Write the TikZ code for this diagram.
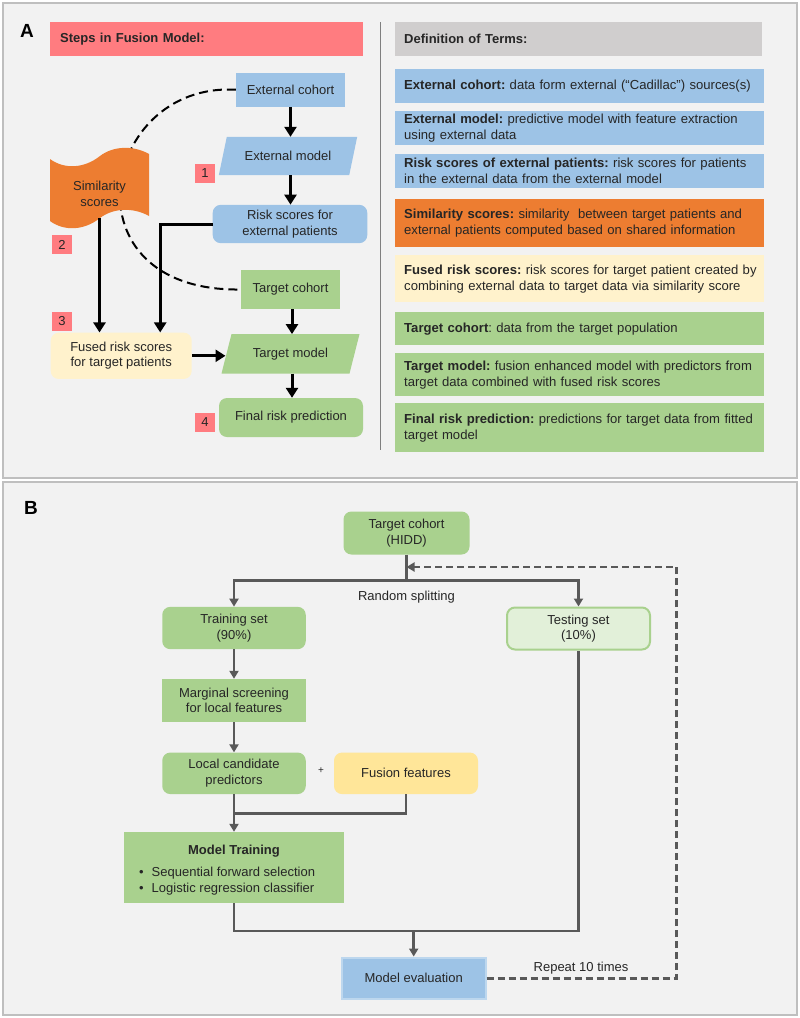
\documentclass[tikz,border=0pt]{standalone}
\usepackage{fontspec}
\setmainfont{Liberation Sans}
\usetikzlibrary{arrows.meta,calc,backgrounds}
\definecolor{panelbg}{HTML}{F2F2F2}
\definecolor{panelline}{HTML}{BFBFBF}
\definecolor{redhdr}{HTML}{FF7C80}
\definecolor{greyhdr}{HTML}{D0CECE}
\definecolor{blu}{HTML}{9DC3E6}
\definecolor{org}{HTML}{ED7D31}
\definecolor{lyel}{HTML}{FFF2CC}
\definecolor{grn}{HTML}{A9D18E}
\definecolor{fyel}{HTML}{FFE699}
\definecolor{lgrn}{HTML}{E2F0D9}
\definecolor{lblu}{HTML}{BDD7EE}
\definecolor{gline}{HTML}{595959}
\definecolor{txt}{HTML}{262626}
\definecolor{divline}{HTML}{7F7F7F}
\begin{document}
\frenchspacing
\begin{tikzpicture}[x=1pt,y=-1pt,
  every node/.style={inner sep=0pt, text=txt, font=\fontsize{13}{15.5}\selectfont},
  flow/.style={rectangle, align=center},
  rnd/.style={rounded corners=8pt},
  defbox/.style={rectangle, anchor=north west, text width=351, inner xsep=9, align=left, font=\fontsize{13.1}{16}\selectfont},
  hdr/.style={rectangle, anchor=north west, minimum height=34, inner xsep=10, align=left, font=\bfseries\fontsize{13}{15}\selectfont},
  badge/.style={rectangle, fill=redhdr, minimum width=20, minimum height=19},
  bigarr/.style={line width=3pt, -{Triangle[width=12pt,length=10pt]}},
  simline/.style={line width=2pt, dash pattern=on 9pt off 5pt},
  gl/.style={line width=2.5pt, draw=gline},
  garr/.style={line width=2.5pt, draw=gline, -{Triangle[width=9pt,length=8pt]}, gline},
  gdash/.style={line width=2.5pt, draw=gline, dash pattern=on 7pt off 4pt, -{Triangle[width=9pt,length=8pt]}, gline},
  panel/.style={fill=panelbg, draw=panelline, line width=1.5pt}
]
\useasboundingbox (0,0) rectangle (800,1018);
\begin{pgfonlayer}{background}
\draw[panel] (3,3) rectangle (797,478);
\draw[panel] (3,482) rectangle (797,1015);
\end{pgfonlayer}

% ---------------- Panel A ----------------
\node[font=\bfseries\fontsize{19}{19}\selectfont, text=black] (labA) at (27,31) {A};
\node[hdr, fill=redhdr, text width=293] (hdrA) at (50,22) {Steps in Fusion Model:};
\node[hdr, fill=greyhdr, text width=349, inner xsep=9] (hdrB) at (395,22) {Definition of Terms:};
\draw[line width=1pt, divline] (380,22) -- (380,450);

% definitions
\node[defbox, fill=blu, minimum height=34] (d1) at (395,69) {\mbox{\textbf{External cohort:} data form external (“Cadillac”) sources(s)}};
\node[defbox, fill=blu, minimum height=34] (d2) at (395,111) {\mbox{\textbf{External model:} predictive model with feature extraction}\\using external data};
\node[defbox, fill=blu, minimum height=34] (d3) at (395,154) {\mbox{\textbf{Risk scores of external patients:} risk scores for patients}\\\mbox{in the external data from the external model}};
\node[defbox, fill=org, minimum height=48] (d4) at (395,199) {\mbox{\textbf{Similarity scores:} similarity\ \ between target patients and}\\\mbox{external patients computed based on shared information}};
\node[defbox, fill=lyel, minimum height=47] (d5) at (395,255) {\mbox{\textbf{Fused risk scores:} risk scores for target patient created by}\\\mbox{combining external data to target data via similarity score}};
\node[defbox, fill=grn, minimum height=33] (d6) at (395,312) {\mbox{\textbf{Target cohort}: data from the target population}};
\node[defbox, fill=grn, minimum height=43] (d7) at (395,353) {\mbox{\textbf{Target model:} fusion enhanced model with predictors from}\\\mbox{target data combined with fused risk scores}};
\node[defbox, fill=grn, minimum height=49] (d8) at (395,403) {\mbox{\textbf{Final risk prediction:} predictions for target data from fitted}\\target model};

% flow nodes
\node[flow, fill=blu, minimum width=109, minimum height=34] (ec) at (290.5,89.7) {External cohort};
\node[flow, minimum width=138, minimum height=38] (em) at (288,156) {External model};
\begin{pgfonlayer}{background}
\fill[blu] ([xshift=8]em.north west) -- (em.north east) -- ([xshift=-8]em.south east) -- (em.south west) -- cycle;
\end{pgfonlayer}
\node[flow, rnd, fill=blu, minimum width=154.6, minimum height=38.3] (rs) at (290,224) {Risk scores for\\external patients};
\node[flow, fill=grn, minimum width=99.3, minimum height=38.7] (tc) at (290.5,289.5) {Target cohort};
\node[flow, minimum width=137.6, minimum height=39] (tm) at (290.5,353.8) {Target model};
\begin{pgfonlayer}{background}
\fill[grn] ([xshift=10]tm.north west) -- (tm.north east) -- ([xshift=-10]tm.south east) -- (tm.south west) -- cycle;
\end{pgfonlayer}
\node[flow, rnd, fill=lyel, minimum width=141, minimum height=46.3] (fr) at (121.2,355.8) {Fused risk scores\\for target patients};
\node[flow, rnd, fill=grn, minimum width=144, minimum height=39] (fp) at (291,417.5) {Final risk prediction};

% dashed similarity curve (behind the tape shape)
\draw[simline] (ec.west) .. controls (100,82) and (62,292) .. (tc.west);
\fill[org] (50,159) .. controls (65,170) and (85,168) .. (100,156) .. controls (113,146) and (133,145) .. (149,154)
  -- (149,216) .. controls (133,207) and (113,208) .. (100,218) .. controls (85,230) and (65,232) .. (50,221) -- cycle;
\node[flow, minimum width=99, minimum height=48] (ss) at (99.5,194) {Similarity\\scores};

% badges
\node[badge] (n1) at (205,173.5) {1};
\node[badge] (n2) at (62,244.5) {2};
\node[badge] (n3) at (62,321) {3};
\node[badge] (n4) at (205,422.5) {4};

% arrows panel A
\draw[bigarr] (ec.south) -- (ec.south |- em.north);
\draw[bigarr] (em.south -| ec.south) -- (rs.north -| ec.south);
\draw[bigarr] (ss.south) -- (ss.south |- fr.north);
\coordinate (frin) at ([xshift=39]fr.north);
\draw[bigarr] (rs.west) -| (frin);
\coordinate (tmin) at ([xshift=4]tm.west);
\draw[bigarr] (fr.east) -- (fr.east -| tmin);
\draw[bigarr] ([xshift=1.5]tc.south) -- ([xshift=1.5]tc.south |- tm.north);
\draw[bigarr] ([xshift=1.5]tc.south |- tm.south) -- ([xshift=1.5]tc.south |- fp.north);

% ---------------- Panel B ----------------
\node[font=\bfseries\fontsize{19}{19}\selectfont, text=black] (labB) at (31,508) {B};
\node[flow, rnd, fill=grn, minimum width=126, minimum height=43] (btc) at (406.5,533) {Target cohort\\(HIDD)};
\node[flow, rnd, fill=grn, minimum width=143.5, minimum height=42.3] (train) at (234,628) {Training set\\(90\%)};
\node[flow, rnd, fill=lgrn, draw=grn, line width=2pt, minimum width=143, minimum height=42] (test) at (578.5,628.5) {Testing set\\(10\%)};
\node[flow, fill=grn, minimum width=143.5, minimum height=43] (marg) at (234,700.5) {Marginal screening\\for local features};
\node[flow, rnd, fill=grn, minimum width=143.5, minimum height=41.5] (loc) at (234,773.3) {Local candidate\\predictors};
\node (plus) at (321,771) {\fontsize{10}{10}\selectfont +};
\node[flow, rnd, fill=fyel, minimum width=144, minimum height=41.5] (fus) at (406,773.3) {Fusion features};
\node[flow, fill=grn, minimum width=220.5, minimum height=71] (mt) at (234,867.5) {};
\node[font=\bfseries\fontsize{13}{15.5}\selectfont] (mttitle) at (234,851) {Model Training};
\node[anchor=west, align=left, font=\fontsize{13}{16}\selectfont] (mtlist) at (139,881) {•\hspace{8pt}Sequential forward selection\\•\hspace{8pt}Logistic regression classifier};
\node[flow, fill=blu, draw=lblu, line width=2pt, minimum width=144, minimum height=41.5] (me) at (413.7,978.3) {Model evaluation};

\coordinate (split) at (406.5,580.7);
\coordinate (join) at (320,813.5);
\coordinate (merge) at (500,931);
\coordinate (rpt) at (676.5,600);
\coordinate (loop) at (500,567);

\node (rsplit) at (406.5,597) {Random splitting};
\node (rep) at (581,968) {Repeat 10 times};

\draw[gl] (btc.south) -- (split);
\draw[garr] (split) -| (train.north);
\draw[garr] (split) -| (test.north);
\draw[garr] (train.south) -- (marg.north);
\draw[garr] (marg.south) -- (loc.north);
\draw[gl] (fus.south) |- (loc.south |- join);
\draw[garr] (loc.south) -- (mt.north);
\draw[gl] (mt.south) |- (test.south |- merge) -- (test.south);
\draw[garr] (me.north |- merge) -- (me.north);
\draw[gdash] (me.east) -| (rpt |- loop) -- (btc.south |- loop);
\end{tikzpicture}
\end{document}
